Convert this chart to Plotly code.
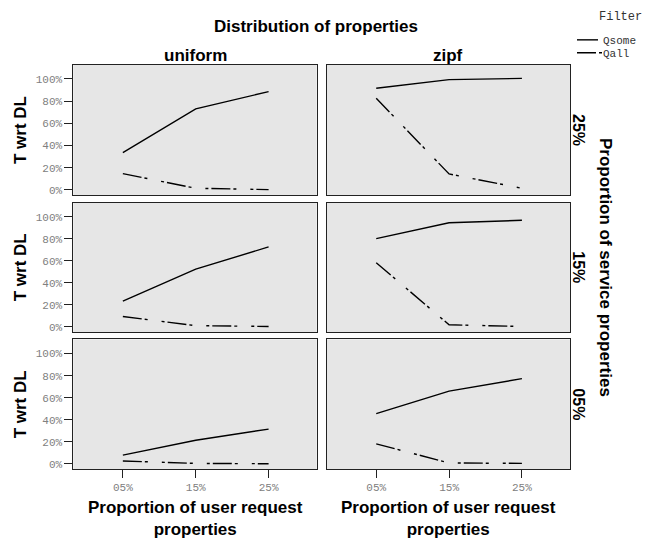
import plotly.graph_objects as go

# ---- data ----
categories = ["05%", "15%", "25%"]          # proportion of user request properties
distributions = ["uniform", "zipf"]          # columns
service_levels = ["25%", "15%", "05%"]       # rows (top to bottom)
series_names = ["Qsome", "Qall"]
y_ticks = [0, 20, 40, 60, 80, 100]
y_tick_labels = ["0%", "20%", "40%", "60%", "80%", "100%"]

uniform_25_qsome = [33.6, 73.0, 88.6]
uniform_25_qall = [14.7, 1.5, 0.3]
uniform_15_qsome = [23.3, 52.3, 72.5]
uniform_15_qall = [9.3, 1.0, 0.3]
uniform_05_qsome = [8.0, 21.5, 31.6]
uniform_05_qall = [2.7, 0.5, 0.2]

zipf_25_qsome = [91.6, 99.4, 100.5]
zipf_25_qall = [82.6, 14.4, 1.5]
zipf_15_qsome = [80.0, 94.4, 96.7]
zipf_15_qall = [58.2, 1.8, 0.3]
zipf_05_qsome = [45.6, 66.0, 77.3]
zipf_05_qall = [18.2, 0.9, 0.5]

panels = {
    ("uniform", "25%"): (uniform_25_qsome, uniform_25_qall),
    ("uniform", "15%"): (uniform_15_qsome, uniform_15_qall),
    ("uniform", "05%"): (uniform_05_qsome, uniform_05_qall),
    ("zipf", "25%"): (zipf_25_qsome, zipf_25_qall),
    ("zipf", "15%"): (zipf_15_qsome, zipf_15_qall),
    ("zipf", "05%"): (zipf_05_qsome, zipf_05_qall),
}

# ---- styles ----
W, H = 645, 539
dash_styles = {"Qsome": "solid", "Qall": "19px,3px,3px,14px,3px,3px"}
col_px = [(73.3, 316.7), (326.7, 570.0)]
row_px = [(65.0, 196.0), (203.3, 333.3), (340.7, 471.0)]
title_font = dict(family="Arial, Liberation Sans, sans-serif", color="black")
mono = "Courier New, Liberation Mono, monospace"

fig = go.Figure()
layout = dict(
    width=W, height=H, margin=dict(l=0, r=0, t=0, b=0),
    paper_bgcolor="white", plot_bgcolor="#e6e6e6", showlegend=False,
)

ann = []
shapes = []


def add_text(text, xpx, ypx, size, font_family=None, color="black", angle=0, xanchor="center"):
    f = dict(size=size, family=font_family or title_font["family"], color=color)
    ann.append(dict(text=text, x=xpx / W, y=1 - ypx / H, xref="paper", yref="paper",
                    xanchor=xanchor, yanchor="middle", showarrow=False,
                    textangle=angle, font=f))


idx = 0
for ri, lvl in enumerate(service_levels):
    for ci, dist in enumerate(distributions):
        idx += 1
        xa = "x" if idx == 1 else f"x{idx}"
        ya = "y" if idx == 1 else f"y{idx}"
        xkey = "xaxis" if idx == 1 else f"xaxis{idx}"
        ykey = "yaxis" if idx == 1 else f"yaxis{idx}"
        x0, x1 = col_px[ci]
        y0, y1 = row_px[ri]
        bottom = ri == len(service_levels) - 1
        left = ci == 0
        layout[xkey] = dict(
            domain=[x0 / W, x1 / W], anchor=ya, type="category",
            range=[-0.68, 2.66], showgrid=False, zeroline=False,
            showline=True, mirror=True, linecolor="#222", linewidth=1,
            ticks="outside" if bottom else "", ticklen=8, tickcolor="#222",
            showticklabels=bottom,
            tickfont=dict(family=mono, size=11, color="#808080"),
        )
        layout[ykey] = dict(
            domain=[1 - y1 / H, 1 - y0 / H], anchor=xa,
            range=[-4.8, 112.8], showgrid=False, zeroline=False,
            showline=True, mirror=True, linecolor="#222", linewidth=1,
            tickmode="array", tickvals=y_ticks, ticktext=y_tick_labels,
            ticks="outside" if left else "", ticklen=8, tickcolor="#222",
            showticklabels=left,
            tickfont=dict(family=mono, size=11, color="#808080"),
        )
        for name, vals in zip(series_names, panels[(dist, lvl)]):
            fig.add_trace(go.Scatter(
                x=categories, y=vals, mode="lines", name=name,
                xaxis=xa, yaxis=ya,
                line=dict(color="black", width=1.4, dash=dash_styles[name]),
            ))

# column headers and x titles
for ci, dist in enumerate(distributions):
    x0, x1 = col_px[ci]
    add_text(f"<b>{dist}</b>", (x0 + x1) / 2, 56, 17)
    add_text("<b>Proportion of user request<br>properties</b>", (x0 + x1) / 2, 520, 17)

add_text("<b>Distribution of properties</b>", 316, 27, 17)

# row labels
for ri, lvl in enumerate(service_levels):
    y0, y1 = row_px[ri]
    add_text("<b>T wrt DL</b>", 20, (y0 + y1) / 2, 17, angle=-90)
    add_text(f"<b>{lvl}</b>", 579, (y0 + y1) / 2, 16, angle=90)

add_text("<b>Proportion of service properties</b>", 606, 268, 17, angle=90)

# legend (Filter)
add_text("Filter", 644, 17, 12, font_family=mono, color="#333", xanchor="right")
for i, name in enumerate(series_names):
    lypx = 40 + 13 * i
    shapes.append(dict(type="line", xref="paper", yref="paper",
                       x0=577 / W, x1=(598 if name == "Qsome" else 602) / W,
                       y0=1 - lypx / H, y1=1 - lypx / H,
                       line=dict(color="black", width=1.4, dash=dash_styles[name])))
    add_text(name, 601, lypx + 1.5, 11, font_family=mono, color="#333", xanchor="left")

layout["annotations"] = ann
layout["shapes"] = shapes
fig.update_layout(**layout)
fig.write_html("out.html", config={"displayModeBar": False},
               post_script="document.body.style.margin='0';document.body.style.overflow='hidden';")
